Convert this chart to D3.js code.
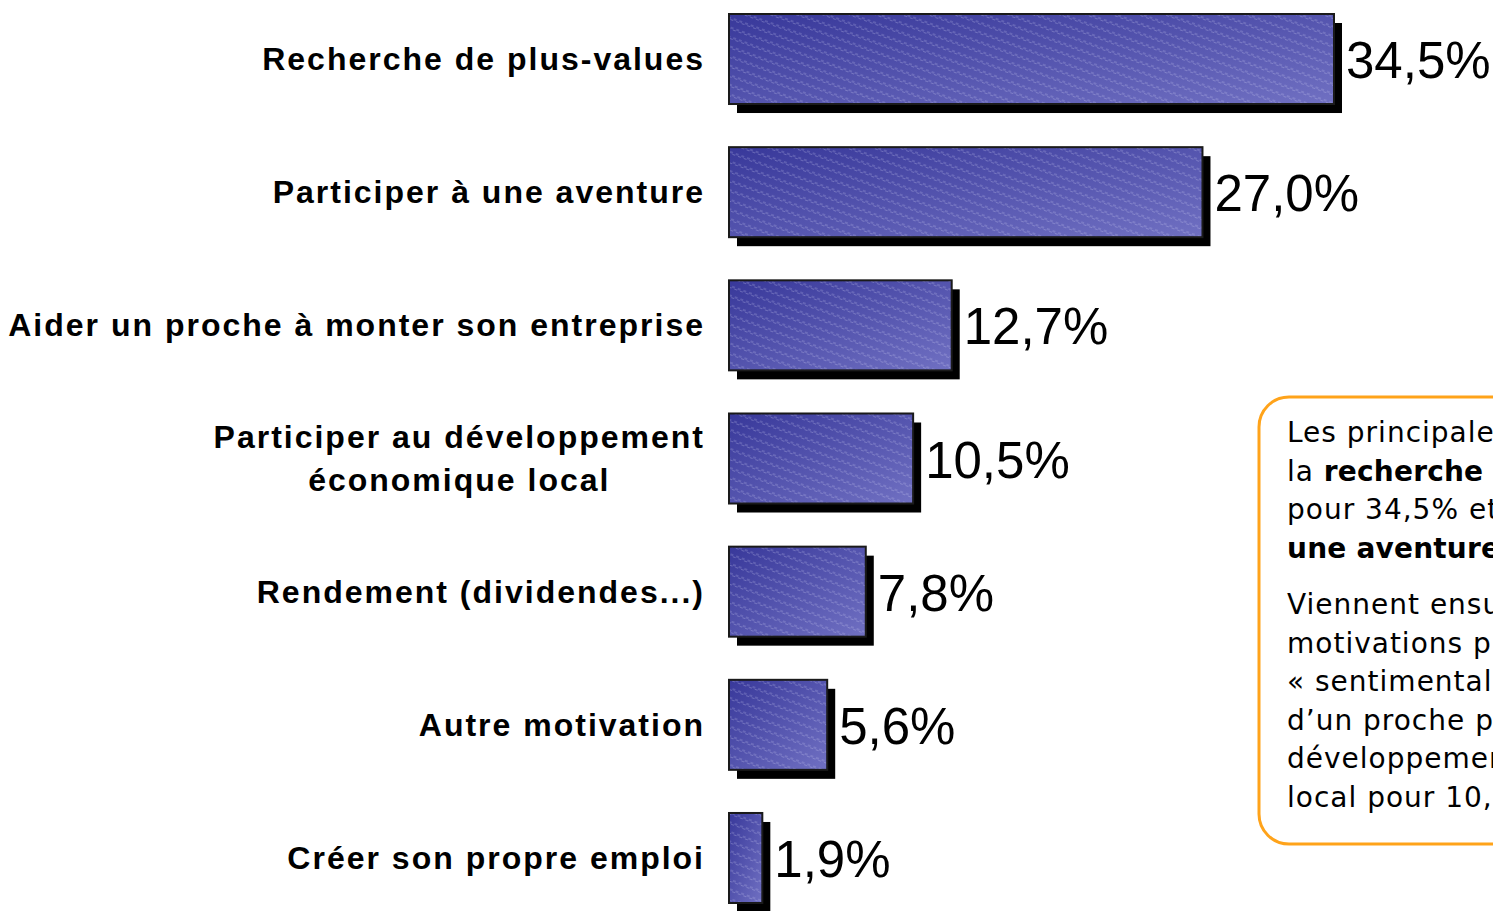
<!DOCTYPE html>
<html lang="fr">
<head>
<meta charset="utf-8" />
<title>Motivations</title>
<script src="https://d3js.org/d3.v7.min.js"></script>
<style>
    body { margin: 0; background: #fff; overflow: hidden; }
    .cat { font: bold 32px "Liberation Sans", Arial, sans-serif; letter-spacing: 2px; fill: #000; }
    .val { font: 51px "Liberation Sans", Arial, sans-serif; fill: #000; }
    .note { font: 28px "DejaVu Sans", sans-serif; letter-spacing: 1px; fill: #000; }
    .note .b { font-weight: bold; letter-spacing: 0.2px; }
</style>
</head>
<body>
<div id="chart"></div>
<script>
    var width = 1493, height = 911;

    var categories = [
        "Recherche de plus-values",
        "Participer à une aventure",
        "Aider un proche à monter son entreprise",
        "Participer au développement|économique local",
        "Rendement (dividendes...)",
        "Autre motivation",
        "Créer son propre emploi"
    ];
    var values = [34.5, 27.0, 12.7, 10.5, 7.8, 5.6, 1.9];
    var valueLabels = ["34,5%", "27,0%", "12,7%", "10,5%", "7,8%", "5,6%", "1,9%"];

    // note box text: paragraphs -> lines -> [text, bold] segments
    var noteParagraphs = [
        [
            [["Les principales motivations sont", false]],
            [["la ", false], ["recherche de plus-values", true]],
            [["pour 34,5% et ", false], ["participer à", true]],
            [["une aventure", true], [" pour 27%", false]]
        ],
        [
            [["Viennent ensuite des", false]],
            [["motivations plus", false]],
            [["« sentimentales » : aider", false]],
            [["d’un proche pour 12,7% et le", false]],
            [["développement économique", false]],
            [["local pour 10,5%", false]]
        ]
    ];

    var svg = d3.select("#chart").append("svg")
        .attr("width", width)
        .attr("height", height);

    var defs = svg.append("defs");
    var grad = defs.append("linearGradient")
        .attr("id", "barGrad")
        .attr("x1", 0).attr("y1", 0).attr("x2", 1).attr("y2", 1);
    grad.append("stop").attr("offset", "0%").attr("stop-color", "#38389a");
    grad.append("stop").attr("offset", "100%").attr("stop-color", "#7070c2");

    // fine light dashed stripes running down-right
    var pat = defs.append("pattern")
        .attr("id", "stripes")
        .attr("patternUnits", "userSpaceOnUse")
        .attr("width", 6).attr("height", 9)
        .attr("patternTransform", "rotate(20)");
    pat.append("line")
        .attr("x1", 0).attr("y1", 1).attr("x2", 3).attr("y2", 1)
        .attr("stroke", "#d0d0f4").attr("stroke-opacity", 0.4).attr("stroke-width", 1);
    pat.append("line")
        .attr("x1", 3).attr("y1", 2.5).attr("x2", 6).attr("y2", 2.5)
        .attr("stroke", "#d0d0f4").attr("stroke-opacity", 0.3).attr("stroke-width", 1);

    var x = d3.scaleLinear()
        .domain([0, 34.5])
        .range([729, 1334]);

    var y = d3.scaleBand()
        .domain(categories)
        .range([14, 903])
        .paddingInner(0.324)
        .paddingOuter(0);

    var rows = svg.selectAll(".row")
        .data(categories)
        .enter().append("g")
        .attr("class", "row");

    // shadow
    rows.append("rect")
        .attr("x", x(0) + 8)
        .attr("y", function (d) { return y(d) + 9; })
        .attr("width", function (d, i) { return x(values[i]) - x(0); })
        .attr("height", y.bandwidth())
        .attr("fill", "#000");

    rows.append("rect")
        .attr("x", x(0))
        .attr("y", function (d) { return y(d); })
        .attr("width", function (d, i) { return x(values[i]) - x(0); })
        .attr("height", y.bandwidth())
        .attr("fill", "url(#barGrad)");

    rows.append("rect")
        .attr("x", x(0))
        .attr("y", function (d) { return y(d); })
        .attr("width", function (d, i) { return x(values[i]) - x(0); })
        .attr("height", y.bandwidth())
        .attr("fill", "url(#stripes)")
        .attr("stroke", "#1a1a1a")
        .attr("stroke-width", 2);

    // value labels
    rows.append("text")
        .attr("class", "val")
        .attr("x", function (d, i) { return x(values[i]) + 12; })
        .attr("y", function (d) { return y(d) + y.bandwidth() / 2 + 19; })
        .text(function (d, i) { return valueLabels[i]; });

    // category labels
    var labelRight = 705;
    rows.each(function (d) {
        var lines = d.split("|");
        var g = d3.select(this);
        var cy = y(d) + y.bandwidth() / 2;
        if (lines.length === 1) {
            g.append("text")
                .attr("class", "cat")
                .attr("x", labelRight)
                .attr("y", cy + 11)
                .attr("text-anchor", "end")
                .text(d);
        } else {
            var t = g.append("text")
                .attr("class", "cat")
                .attr("text-anchor", "middle");
            var lh = 43;
            lines.forEach(function (l, k) {
                t.append("tspan")
                    .attr("y", cy + 11 + (k - (lines.length - 1) / 2) * lh)
                    .text(l);
            });
            var maxW = 0;
            t.selectAll("tspan").each(function () {
                maxW = Math.max(maxW, this.getComputedTextLength());
            });
            t.selectAll("tspan").attr("x", labelRight - maxW / 2);
        }
    });

    // note box (runs off the right edge, as in the original)
    svg.append("rect")
        .attr("x", 1259).attr("y", 397)
        .attr("width", 300).attr("height", 447)
        .attr("rx", 30).attr("ry", 30)
        .attr("fill", "#fff")
        .attr("stroke", "#ffa31a")
        .attr("stroke-width", 3);

    var note = svg.append("text").attr("class", "note");
    var ly = 442;
    noteParagraphs.forEach(function (para) {
        para.forEach(function (line) {
            line.forEach(function (seg, si) {
                var ts = note.append("tspan").text(seg[0])
                    .attr("class", seg[1] ? "b" : null);
                if (si === 0) ts.attr("x", 1287).attr("y", ly);
            });
            ly += 38.5;
        });
        ly += 18;
    });
</script>
</body>
</html>
